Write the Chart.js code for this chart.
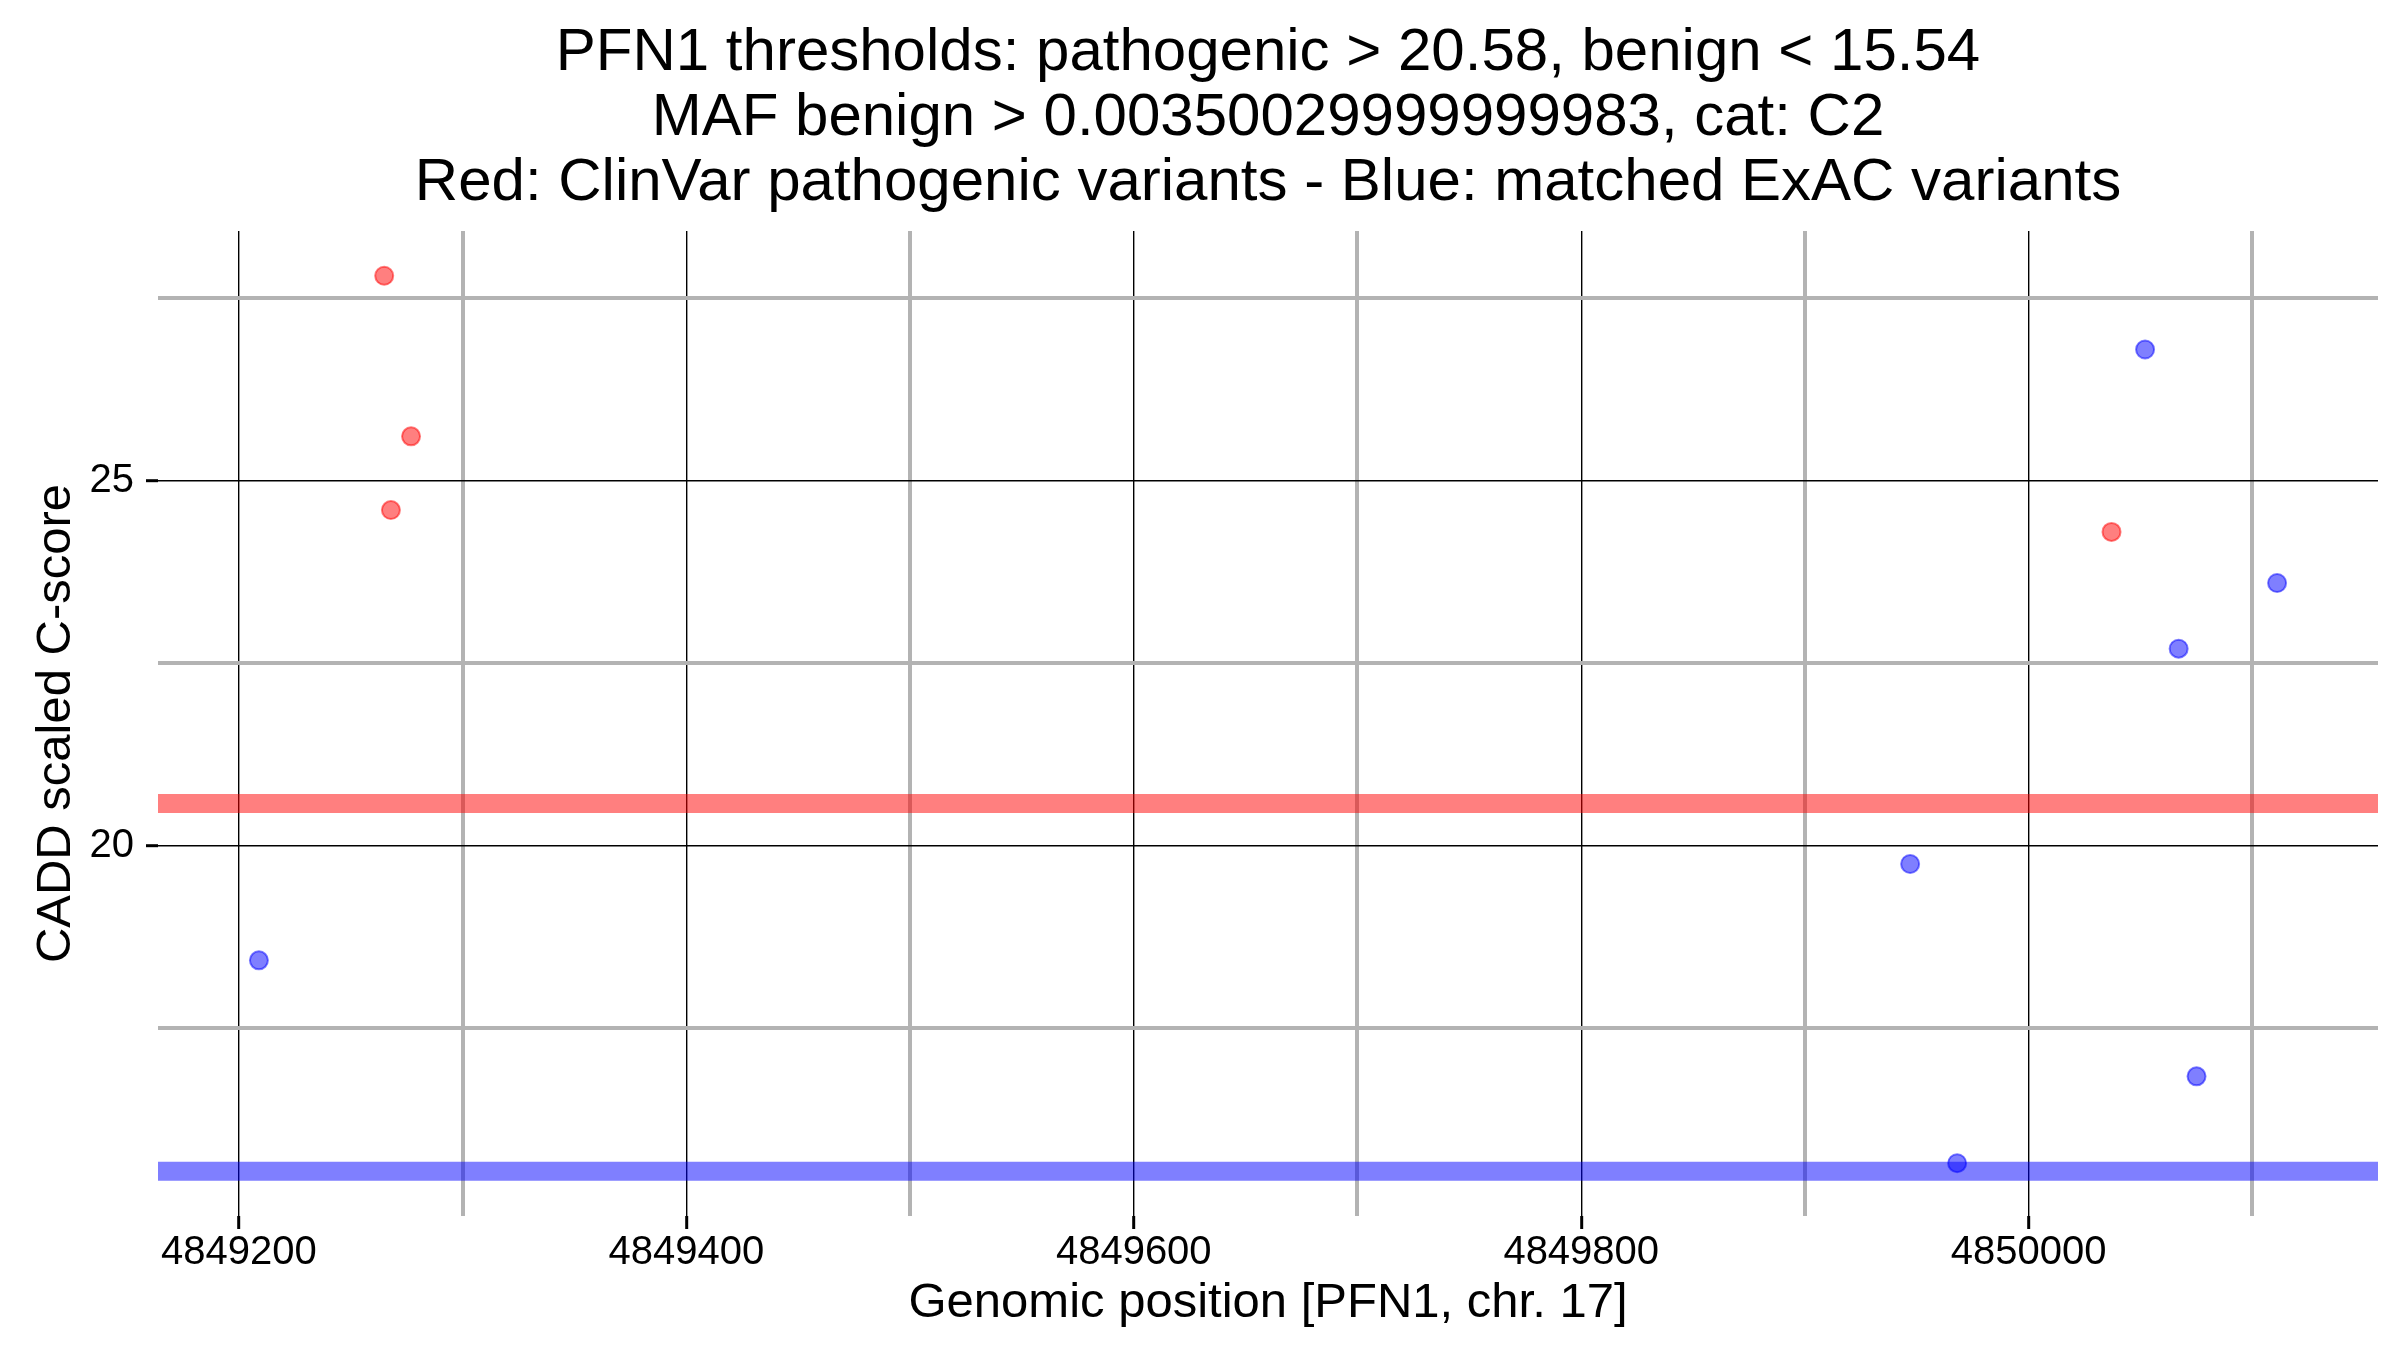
<!DOCTYPE html>
<html lang="en">
<head>
    <meta charset="UTF-8">
    <title>PFN1 CADD scores</title>
    <script src="https://cdn.jsdelivr.net/npm/chart.js@4.4.1/dist/chart.umd.min.js"></script>
    <style>
        body {
            margin: 0;
            background: white;
        }
        canvas {
            display: block;
        }
    </style>
</head>
<body>
    <canvas id="myChart" width="2400" height="1350"></canvas>

<script>
// ClinVar pathogenic variants (red)
const clinvarPos = [4849265, 4849277, 4849268, 4850037];
const clinvarScore = [27.81, 25.61, 24.60, 24.30];

// matched ExAC variants (blue)
const exacPos = [4849209, 4850052, 4850111, 4850067, 4849947, 4850075, 4849968];
const exacScore = [18.43, 26.80, 23.60, 22.70, 19.75, 16.84, 15.65];

// thresholds
const pathogenicThreshold = 20.58;
const benignThreshold = 15.54;

// axis ticks
const xMajorTicks = [4849200, 4849400, 4849600, 4849800, 4850000];
const xMinorTicks = [4849300, 4849500, 4849700, 4849900, 4850100];
const yMajorTicks = [20, 25];
const yMinorTicks = [17.5, 22.5, 27.5];

const titleLines = [
  "PFN1 thresholds: pathogenic > 20.58, benign < 15.54",
  "MAF benign > 0.00350029999999983, cat: C2",
  "Red: ClinVar pathogenic variants - Blue: matched ExAC variants"
];

// ggplot style 5% expansion of the data range
function expand(values) {
  const lo = Math.min(...values), hi = Math.max(...values);
  const pad = (hi - lo) * 0.05;
  return [lo - pad, hi + pad];
}
const [xMin, xMax] = expand(clinvarPos.concat(exacPos));
const [yMin, yMax] = expand(clinvarScore.concat(exacScore, [pathogenicThreshold, benignThreshold]));

const toPoints = (xs, ys) => xs.map((x, i) => ({x: x, y: ys[i]}));
const hline = y => [{x: xMin, y: y}, {x: xMax, y: y}];

const FONT = "'Liberation Sans', Arial, sans-serif";
const isMajor = (list, v) => list.some(t => Math.abs(t - v) < 1e-6);

const myChart = new Chart("myChart", {
  type: "scatter",
  data: {
    datasets: [
      {
        data: toPoints(clinvarPos, clinvarScore),
        backgroundColor: "rgba(255,0,0,0.5)",
        borderColor: "rgba(255,0,0,0.5)",
        borderWidth: 2,
        pointRadius: 9
      },
      {
        data: toPoints(exacPos, exacScore),
        backgroundColor: "rgba(0,0,255,0.5)",
        borderColor: "rgba(0,0,255,0.5)",
        borderWidth: 2,
        pointRadius: 9
      },
      {
        type: "line",
        data: hline(pathogenicThreshold),
        borderColor: "rgba(255,0,0,0.5)",
        borderWidth: 19,
        borderCapStyle: "butt",
        pointRadius: 0,
        clip: 0
      },
      {
        type: "line",
        data: hline(benignThreshold),
        borderColor: "rgba(0,0,255,0.5)",
        borderWidth: 19,
        borderCapStyle: "butt",
        pointRadius: 0,
        clip: 0
      }
    ]
  },
  options: {
    responsive: false,
    devicePixelRatio: 1,
    animation: false,
    layout: { padding: { top: 0, right: 22, bottom: 0, left: 0 } },
    plugins: {
      legend: { display: false },
      tooltip: { enabled: false },
      title: {
        display: true,
        fullSize: false,
        text: titleLines,
        color: "#000",
        font: { family: FONT, size: 60, weight: "normal", lineHeight: 65 / 60 },
        padding: { top: 21, bottom: 15 }
      }
    },
    scales: {
      x: {
        type: "linear",
        min: xMin,
        max: xMax,
        border: { display: false },
        afterBuildTicks: scale => {
          scale.ticks = xMajorTicks.concat(xMinorTicks).sort((a, b) => a - b).map(v => ({value: v}));
        },
        afterFit: scale => { scale.height = 134; },
        grid: {
          color: ctx => isMajor(xMajorTicks, ctx.tick.value) ? "#000" : "#b3b3b3",
          lineWidth: ctx => isMajor(xMajorTicks, ctx.tick.value) ? 1.4 : 4,
          tickColor: ctx => isMajor(xMajorTicks, ctx.tick.value) ? "#000" : "rgba(0,0,0,0)",
          tickWidth: 3,
          tickLength: 13
        },
        ticks: {
          autoSkip: false,
          maxRotation: 0,
          padding: 0,
          color: "#000",
          font: { family: FONT, size: 40 },
          callback: v => isMajor(xMajorTicks, v) ? String(v) : ""
        },
        title: {
          display: true,
          text: "Genomic position [PFN1, chr. 17]",
          color: "#000",
          font: { family: FONT, size: 49 },
          padding: { top: 0, bottom: 17 }
        }
      },
      y: {
        type: "linear",
        min: yMin,
        max: yMax,
        border: { display: false },
        afterBuildTicks: scale => {
          scale.ticks = yMajorTicks.concat(yMinorTicks).sort((a, b) => a - b).map(v => ({value: v}));
        },
        afterFit: scale => { scale.width = 158; },
        grid: {
          color: ctx => isMajor(yMajorTicks, ctx.tick.value) ? "#000" : "#b3b3b3",
          lineWidth: ctx => isMajor(yMajorTicks, ctx.tick.value) ? 1.4 : 4,
          tickColor: ctx => isMajor(yMajorTicks, ctx.tick.value) ? "#000" : "rgba(0,0,0,0)",
          tickWidth: 3,
          tickLength: 12
        },
        ticks: {
          autoSkip: false,
          padding: 12,
          color: "#000",
          font: { family: FONT, size: 40 },
          callback: v => isMajor(yMajorTicks, v) ? String(v) : ""
        },
        title: {
          display: true,
          text: "CADD scaled C-score",
          color: "#000",
          font: { family: FONT, size: 49 },
          padding: { top: 27, bottom: 0 }
        }
      }
    }
  }
});
</script>
</body>
</html>
